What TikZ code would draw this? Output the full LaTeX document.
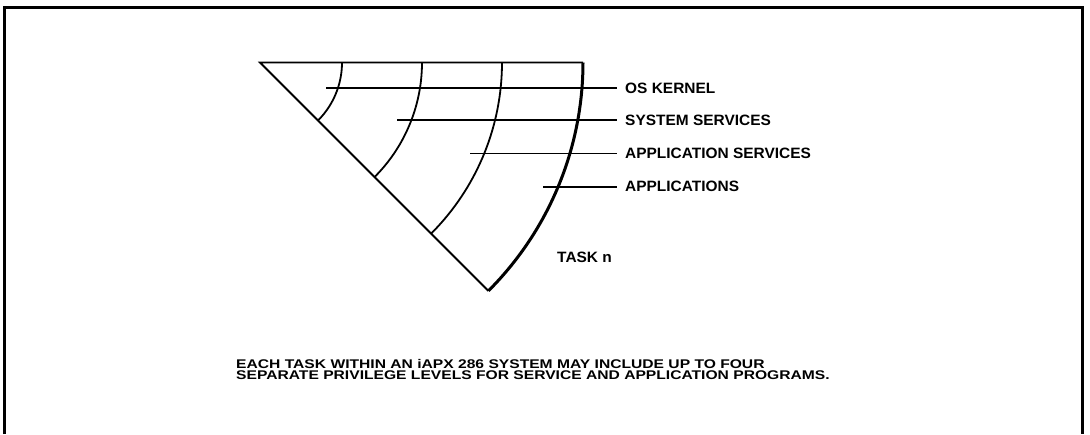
\documentclass[tikz,border=0pt]{standalone}
\usepackage{fontspec}
\setmainfont{Liberation Sans}
\newfontfamily\lblfont{Liberation Sans}[UprightFont=* Bold, FakeStretch=1.03]
\newfontfamily\notefont{Liberation Sans}[UprightFont=* Bold, FakeStretch=1.24]
\begin{document}
\begin{tikzpicture}[x=1pt,y=-1pt,
  edge/.style={line width=1.8pt},
  rim/.style={line width=3pt},
  frame/.style={line width=2.2pt},
  lead/.style={line width=1.7pt},
  lbl/.style={anchor=west, inner xsep=8pt, inner ysep=0pt,
    font=\lblfont\fontsize{15}{15}\selectfont},
  tag/.style={anchor=west, inner sep=0pt,
    font=\lblfont\fontsize{15}{15}\selectfont},
  note/.style={anchor=base west, inner sep=0pt,
    font=\notefont\fontsize{12.6}{12.6}\selectfont}]
\useasboundingbox (0,0) rectangle (1090,434);

% open frame
\draw[frame] (4.5,434) -- (4.5,7.5) -- (1082.5,7.5) -- (1082.5,434);

% task wedge: apex, top right corner, bottom tip
\coordinate (A) at (260,62.5);
\coordinate (R) at (583,62.5);
\coordinate (B) at ({260+323*cos(45)},{62.5+323*sin(45)});
\draw[edge, line join=miter] (B) -- (A) -- (R);
\draw[rim] plot[domain=0:45, samples=60, smooth]
  ({260+323*cos(\x)},{62.5+323*sin(\x)});
% inner privilege rings
\foreach \r in {82,162,242}
  \draw[edge] plot[domain=0:45, samples=40, smooth]
    ({260+\r*cos(\x)},{62.5+\r*sin(\x)});

% ring labels
\node[lbl] (k)  at (617,88.3)  {OS KERNEL};
\node[lbl] (s)  at (617,120)   {SYSTEM SERVICES};
\node[lbl] (as) at (617,153.5) {APPLICATION SERVICES};
\node[lbl] (ap) at (617,186.7) {APPLICATIONS};
\coordinate (k0)  at (326,88.3);
\coordinate (s0)  at (397,120);
\coordinate (as0) at (470,153.5);
\coordinate (ap0) at (543,186.7);
\draw[lead] (k0) -- (k.west);
\draw[lead] (s0) -- (s.west);
\draw[lead] (as0) -- (as.west);
\draw[lead] (ap0) -- (ap.west);

\node[tag] (task) at (557,257) {TASK n};

% caption
\node[note] (n1) at (236,368)   {EACH TASK WITHIN AN iAPX 286 SYSTEM MAY INCLUDE UP TO FOUR};
\node[note] (n2) at (236,379.5) {SEPARATE PRIVILEGE LEVELS FOR SERVICE AND APPLICATION PROGRAMS.};
\end{tikzpicture}
\end{document}
